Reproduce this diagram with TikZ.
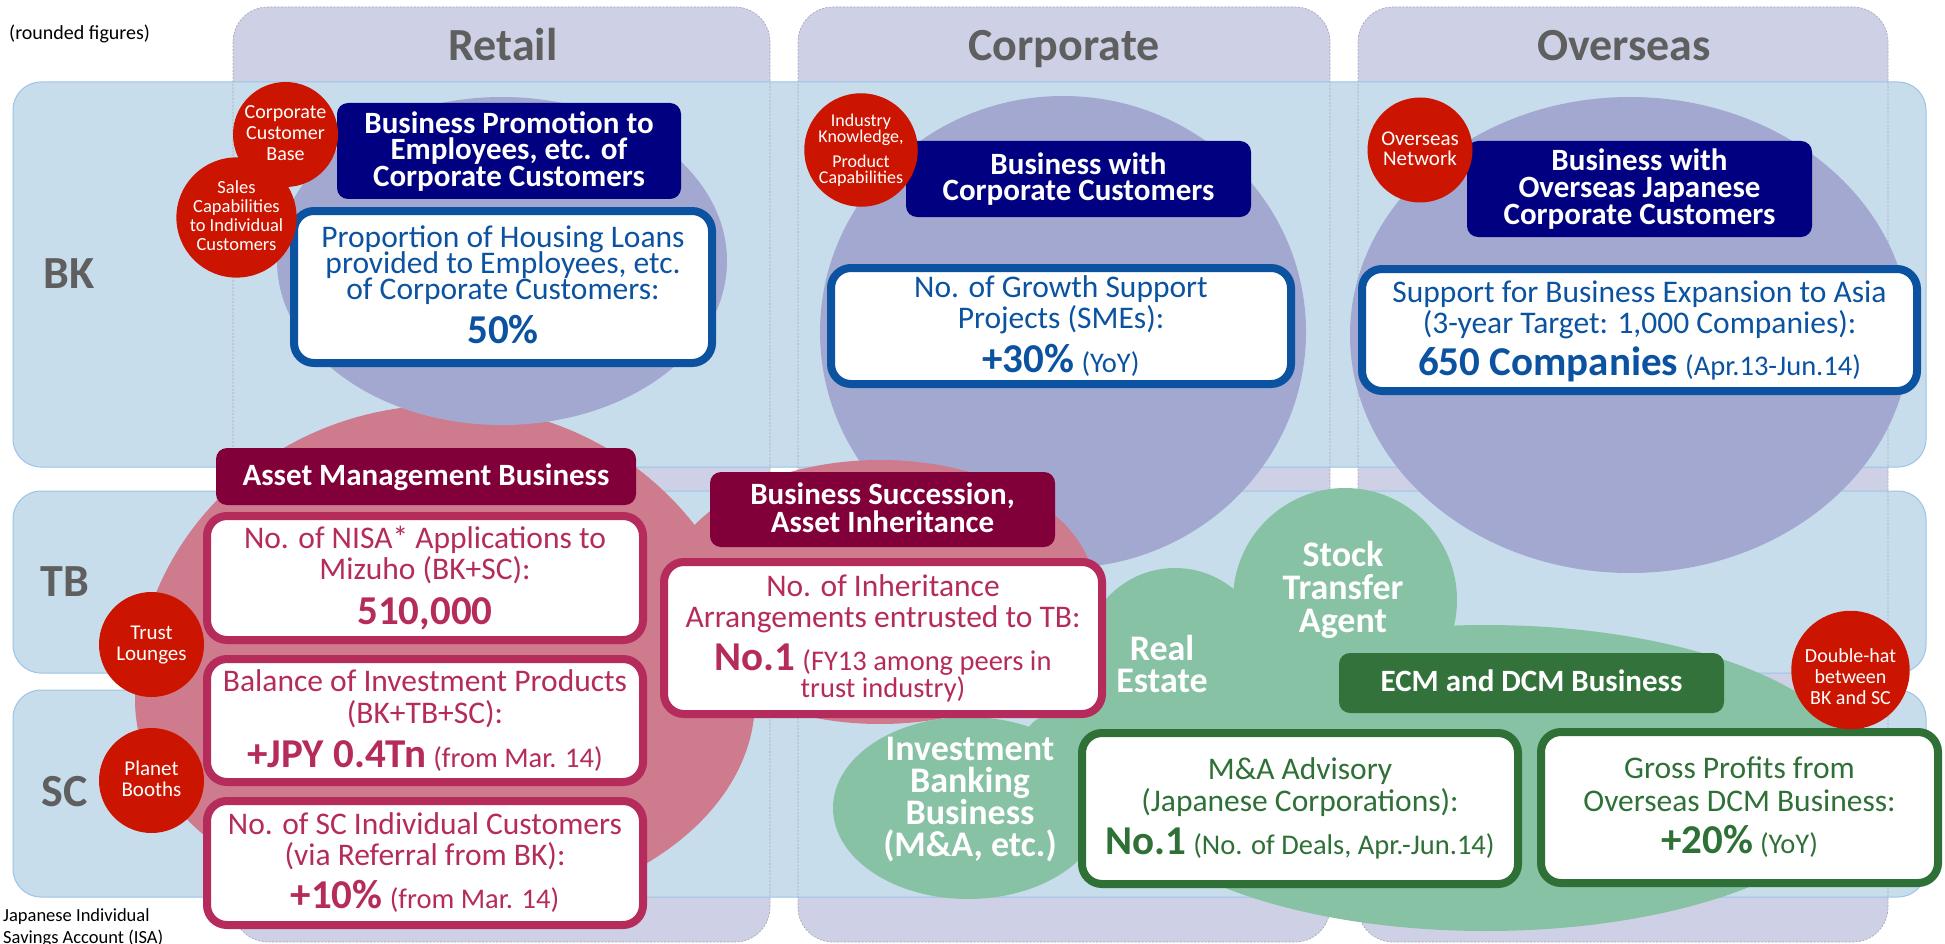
\documentclass[tikz,border=0pt]{standalone}
\usepackage{fontspec}
\setmainfont{Carlito}
\definecolor{lanefill}{HTML}{CED1E6}
\definecolor{lanerule}{HTML}{A4A7B6}
\definecolor{bandfill}{HTML}{C8DDEC}
\definecolor{bandrule}{HTML}{9DC3E6}
\definecolor{lilac}{HTML}{A3A8D0}
\definecolor{rose}{HTML}{CE7B8D}
\definecolor{mint}{HTML}{88C2A5}
\definecolor{signal}{HTML}{CC1500}
\definecolor{navyhead}{HTML}{000080}
\definecolor{bluetext}{HTML}{0B52A0}
\definecolor{maroonhead}{HTML}{82003A}
\definecolor{rosetext}{HTML}{B52B5B}
\definecolor{greenhead}{HTML}{33733B}
\definecolor{greentext}{HTML}{2E7036}
\definecolor{labelgray}{HTML}{5F5F5F}
\lineskiplimit=-100pt
\normallineskiplimit=-100pt
% invisible rules fixing the top of the first line and the bottom of the last
\newcommand\tstrut[1]{\vrule height #1 depth 0pt width 0pt}
\newcommand\bstrut[1]{\vrule height 0pt depth #1 width 0pt}
\newcommand\figbig[1]{{\bfseries\fontsize{41}{41}\selectfont #1}}
\newcommand\figsmall[1]{{\fontsize{28.5}{28}\selectfont #1}}
\tikzset{
  lanebox/.style={fill=lanefill, rounded corners=35pt},
  laneedge/.style={draw=lanerule, line width=0.7pt, dash pattern=on 2pt off 1.5pt, rounded corners=35pt},
  bandbox/.style={fill=bandfill, draw=bandrule, line width=1pt, rounded corners=28pt},
  headbox/.style={rectangle, rounded corners=11pt, inner sep=0pt, text=white, align=center},
  kpibox/.style={rectangle, rounded corners=20pt, fill=white, line width=8pt, inner sep=0pt, align=center},
  badge/.style={circle, fill=signal, text=white, inner sep=0pt, minimum size=105pt, align=center},
  rowcaption/.style={text=labelgray, font=\bfseries\fontsize{46}{46}\selectfont, inner sep=0pt, anchor=base},
  bizlabel/.style={text=white, font=\bfseries\fontsize{36}{32}\selectfont, align=center, inner sep=0pt},
}
\begin{document}
\begin{tikzpicture}[x=1pt, y=-1pt]
\useasboundingbox (0,0) rectangle (1945,944);

% business lines (columns)
\foreach \a/\b in {233/770, 798/1330, 1358/1888}
  \fill[lanebox] (\a,7) rectangle (\b,942);
% group companies (rows)
\path[bandbox] (13,82) rectangle (1926,467);
\path[bandbox] (13,491) rectangle (1926,673);
\path[bandbox] (13,690) rectangle (1926,897);
\foreach \a/\b in {233/770, 798/1330, 1358/1888}
  \draw[laneedge] (\a,7) rectangle (\b,942);

% business areas
\fill[lilac] (1063,332) ellipse [x radius=243pt, y radius=236pt];
\fill[rose] (135,700) arc [start angle=180, end angle=0, x radius=310pt, y radius=295pt]
                      arc [start angle=0, end angle=-180, x radius=310pt, y radius=215pt] -- cycle;
\fill[rose] (880,592) ellipse [x radius=215pt, y radius=132pt];
\fill[lilac] (502,261) ellipse [x radius=225pt, y radius=164pt];
\fill[lilac] (1630,335) ellipse [x radius=280pt, y radius=238pt];
\fill[mint] (1486,778) ellipse [x radius=375pt, y radius=153pt];
\fill[mint] (968,808) ellipse [x radius=135pt, y radius=91pt];
\fill[mint] (1080,738) ellipse [x radius=55pt, y radius=30pt];
\fill[mint] (1175,660) circle [radius=92pt];
\fill[mint] (1345,600) circle [radius=112pt];

% captions
\node[anchor=base west, inner sep=0pt, font=\fontsize{20}{20}\selectfont] (note) at (9,40) {(rounded figures)};
\node[rowcaption] (retail) at (503,61) {Retail};
\node[rowcaption] (corporate) at (1064,61) {Corporate};
\node[rowcaption] (overseas) at (1624,61) {Overseas};
\node[rowcaption] (bk) at (69,288) {BK};
\node[rowcaption] (tb) at (65,596) {TB};
\node[rowcaption] (sc) at (65,806) {SC};
\node[anchor=north west, inner sep=0pt, align=left, font=\fontsize{18.5}{22}\selectfont] (isa) at (3,906)
  {\tstrut{15pt}Japanese Individual\\Savings Account (ISA)};

% business labels in the green area
\node[bizlabel, font=\bfseries\fontsize{36}{33}\selectfont] (stock) at (1343,590.5) {\tstrut{27pt}Stock\\Transfer\\Agent\bstrut{9pt}};
\node[bizlabel] (estate) at (1162,667) {\tstrut{27pt}Real\\Estate\bstrut{9pt}};
\node[bizlabel, font=\bfseries\fontsize{36}{32.3}\selectfont] (ib) at (970,799.5) {\tstrut{27pt}Investment\\Banking\\Business\\(M\&A, etc.)\bstrut{9pt}};

% headers
\node[headbox, fill=navyhead, minimum width=344pt, minimum height=96pt, font=\bfseries\fontsize{31}{26.5}\selectfont] (retailhead) at (509,151)
  {\tstrut{25pt}Business Promotion to\\Employees, etc. of\\Corporate Customers\bstrut{8pt}};
\node[headbox, fill=navyhead, minimum width=345pt, minimum height=76pt, font=\bfseries\fontsize{31}{26}\selectfont] (corphead) at (1078.5,179)
  {\tstrut{25pt}Business with\\Corporate Customers\bstrut{8pt}};
\node[headbox, fill=navyhead, minimum width=345pt, minimum height=96pt, font=\bfseries\fontsize{31}{27}\selectfont] (overhead) at (1639.5,189)
  {\tstrut{25pt}Business with\\Overseas Japanese\\Corporate Customers\bstrut{8pt}};
\node[headbox, fill=maroonhead, minimum width=420pt, minimum height=57pt, font=\bfseries\fontsize{31}{27}\selectfont] (assethead) at (426,476.5)
  {\tstrut{25pt}Asset Management Business\bstrut{8pt}};
\node[headbox, fill=maroonhead, minimum width=345pt, minimum height=75pt, font=\bfseries\fontsize{31}{28}\selectfont] (succhead) at (882.5,509.5)
  {\tstrut{25pt}Business Succession,\\Asset Inheritance\bstrut{8pt}};
\node[headbox, fill=greenhead, minimum width=385pt, minimum height=60pt, font=\bfseries\fontsize{31}{27}\selectfont] (ecmhead) at (1531.5,683)
  {\tstrut{25pt}ECM and DCM Business\bstrut{8pt}};

% key figures
\node[kpibox, draw=bluetext, text=bluetext, minimum width=418pt, minimum height=152pt, font=\fontsize{31.5}{26}\selectfont] (retailkpi) at (503,287)
  {\tstrut{25pt}Proportion of Housing Loans\\provided to Employees, etc.\\of Corporate Customers:\\[18pt]\figbig{50\%}\bstrut{8pt}};
\node[kpibox, draw=bluetext, text=bluetext, minimum width=460pt, minimum height=116pt, font=\fontsize{31.5}{31}\selectfont] (corpkpi) at (1061,326)
  {\tstrut{25pt}No. of Growth Support\\Projects (SMEs):\\[13pt]\figbig{+30\%} \figsmall{(YoY)}\bstrut{8pt}};
\node[kpibox, draw=bluetext, text=bluetext, minimum width=555pt, minimum height=122pt, font=\fontsize{31.5}{31}\selectfont] (overkpi) at (1639.5,330)
  {\tstrut{25pt}Support for Business Expansion to Asia\\(3-year Target: 1,000 Companies):\\[11pt]\figbig{650 Companies} \figsmall{(Apr.13-Jun.14)}\bstrut{8pt}};
\node[kpibox, draw=rosetext, text=rosetext, minimum width=436pt, minimum height=124pt, font=\fontsize{31.5}{31}\selectfont] (nisakpi) at (425,578)
  {\tstrut{25pt}No. of NISA* Applications to\\Mizuho (BK+SC):\\[14pt]\figbig{510,000}\bstrut{8pt}};
\node[kpibox, draw=rosetext, text=rosetext, minimum width=436pt, minimum height=123pt, font=\fontsize{31.5}{32}\selectfont] (balancekpi) at (425,720.5)
  {\tstrut{25pt}Balance of Investment Products\\(BK+TB+SC):\\[12pt]\figbig{+JPY 0.4Tn} \figsmall{(from Mar. 14)}\bstrut{8pt}};
\node[kpibox, draw=rosetext, text=rosetext, minimum width=436pt, minimum height=124pt, font=\fontsize{31.5}{31}\selectfont] (sckpi) at (425,863)
  {\tstrut{25pt}No. of SC Individual Customers\\(via Referral from BK):\\[12pt]\figbig{+10\%} \figsmall{(from Mar. 14)}\bstrut{8pt}};
\node[kpibox, draw=rosetext, text=rosetext, minimum width=438pt, minimum height=152pt, font=\fontsize{31.5}{31}\selectfont] (inheritkpi) at (883,638)
  {\tstrut{25pt}No. of Inheritance\\Arrangements entrusted to TB:\\[12pt]\figbig{No.1} \figsmall{(FY13 among peers in}\\[-4pt]\figsmall{trust industry)}\bstrut{8pt}};
\node[kpibox, draw=greentext, text=greentext, minimum width=436pt, minimum height=151pt, font=\fontsize{31.5}{32}\selectfont] (makpi) at (1300,808.5)
  {\tstrut{25pt}M\&A Advisory\\(Japanese Corporations):\\[11pt]\figbig{No.1} \figsmall{(No. of Deals, Apr.-Jun.14)}\bstrut{8pt}};
\node[kpibox, draw=greentext, text=greentext, minimum width=397pt, minimum height=151pt, font=\fontsize{31.5}{33}\selectfont] (dcmkpi) at (1739.5,807.5)
  {\tstrut{25pt}Gross Profits from\\Overseas DCM Business:\\[9pt]\figbig{+20\%} \figsmall{(YoY)}\bstrut{8pt}};

% strengths
\node[badge, font=\fontsize{20}{21.5}\selectfont] (custbase) at (285.5,134.5) {\tstrut{15pt}Corporate\\Customer\\Base\bstrut{5pt}};
\node[badge, font=\fontsize{18.5}{19}\selectfont] (salescap) at (236.5,217.5) {\tstrut{14pt}Sales\\Capabilities\\to Individual\\Customers\bstrut{5pt}};
\node[badge, font=\fontsize{18}{16}\selectfont] (industry) at (861,150) {\tstrut{14pt}Industry\\Knowledge,\\[9pt]Product\\Capabilities\bstrut{4pt}};
\node[badge, font=\fontsize{21}{20}\selectfont] (network) at (1420,150) {\tstrut{16pt}Overseas\\Network\bstrut{4pt}};
\node[badge, font=\fontsize{21}{21}\selectfont] (lounges) at (151.5,644.5) {\tstrut{16pt}Trust\\Lounges\bstrut{5pt}};
\node[badge, font=\fontsize{21}{21}\selectfont] (booths) at (151.5,780.5) {\tstrut{16pt}Planet\\Booths\bstrut{5pt}};
\node[badge, font=\fontsize{20}{21}\selectfont] (doublehat) at (1850.5,670) {\tstrut{30pt}Double-hat\\between\\BK and SC\bstrut{4pt}};
\end{tikzpicture}
\end{document}
